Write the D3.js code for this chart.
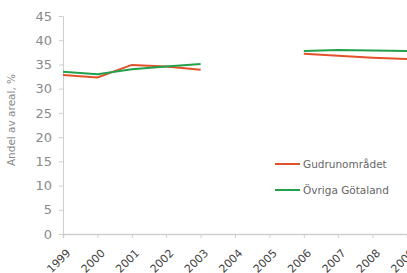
<!DOCTYPE html>
<html><head><meta charset="utf-8">
<script src="https://cdn.jsdelivr.net/npm/d3@7"></script>
<style>body{margin:0;background:#fff}svg{display:block}</style>
</head><body>
<svg id="c" width="407" height="273"></svg>
<script>
const years = ["1999","2000","2001","2002","2003","2004","2005","2006","2007","2008","2009"];
const gudrun = [32.8, 32.3, 34.9, 34.6, 33.9, null, null, 37.2, 36.8, 36.4, 36.1];
const ovriga = [33.5, 33.0, 34.0, 34.6, 35.1, null, null, 37.8, 38.0, 37.9, 37.8];
const yTicks = [0,5,10,15,20,25,30,35,40,45];
const seriesNames = ["Gudrunområdet","Övriga Götaland"];
const colors = ["#e2512a","#23a04c"];

const svg = d3.select("#c");
const x = d3.scalePoint().domain(years).range([63, 407]);
const y = d3.scaleLinear().domain([0,45]).range([234, 16]);
const font = "DejaVu Sans, sans-serif";
const grey = "#8a8a8a";

// y axis
const ya = svg.append("g").attr("transform","translate(63,0)")
  .call(d3.axisLeft(y).tickValues(yTicks).tickSize(4).tickPadding(7));
ya.select(".domain").attr("stroke","#cfcfcf");
ya.selectAll(".tick line").attr("stroke","#cfcfcf");
ya.selectAll("text").attr("fill",grey).style("font-family",font).style("font-size","13px");

// x axis
const xa = svg.append("g").attr("transform","translate(0,234)")
  .call(d3.axisBottom(x).tickSize(4));
xa.select(".domain").attr("stroke","#cfcfcf").attr("stroke-width",1.5);
xa.selectAll(".tick line").attr("stroke","#cfcfcf");
xa.selectAll("text").attr("fill","#444").style("font-family",font).style("font-size","11px")
  .attr("text-anchor","end").attr("dy","0.35em")
  .attr("transform","translate(5,17) rotate(-45)").attr("y",0).attr("x",0);

// y title
svg.append("text").attr("transform","translate(15,120) rotate(-90)")
  .attr("text-anchor","middle").attr("fill",grey)
  .style("font-family",font).style("font-size","10.5px").text("Andel av areal, %");

// lines
const line = d3.line().defined(d => d.v != null).x(d => x(d.yr)).y(d => y(d.v));
[gudrun, ovriga].forEach((s,i) => {
  svg.append("path").datum(years.map((yr,j)=>({yr, v:s[j]})))
    .attr("fill","none").attr("stroke",colors[i]).attr("stroke-width",2).attr("d",line);
});

// legend
seriesNames.forEach((n,i) => {
  const ly = 164 + i*26;
  svg.append("line").attr("x1",275).attr("x2",300).attr("y1",ly).attr("y2",ly)
    .attr("stroke",colors[i]).attr("stroke-width",2);
  svg.append("text").attr("x",303).attr("y",ly).attr("dy","0.35em")
    .attr("fill","#666").style("font-family",font).style("font-size","10.5px").text(n);
});
</script>
</body></html>
